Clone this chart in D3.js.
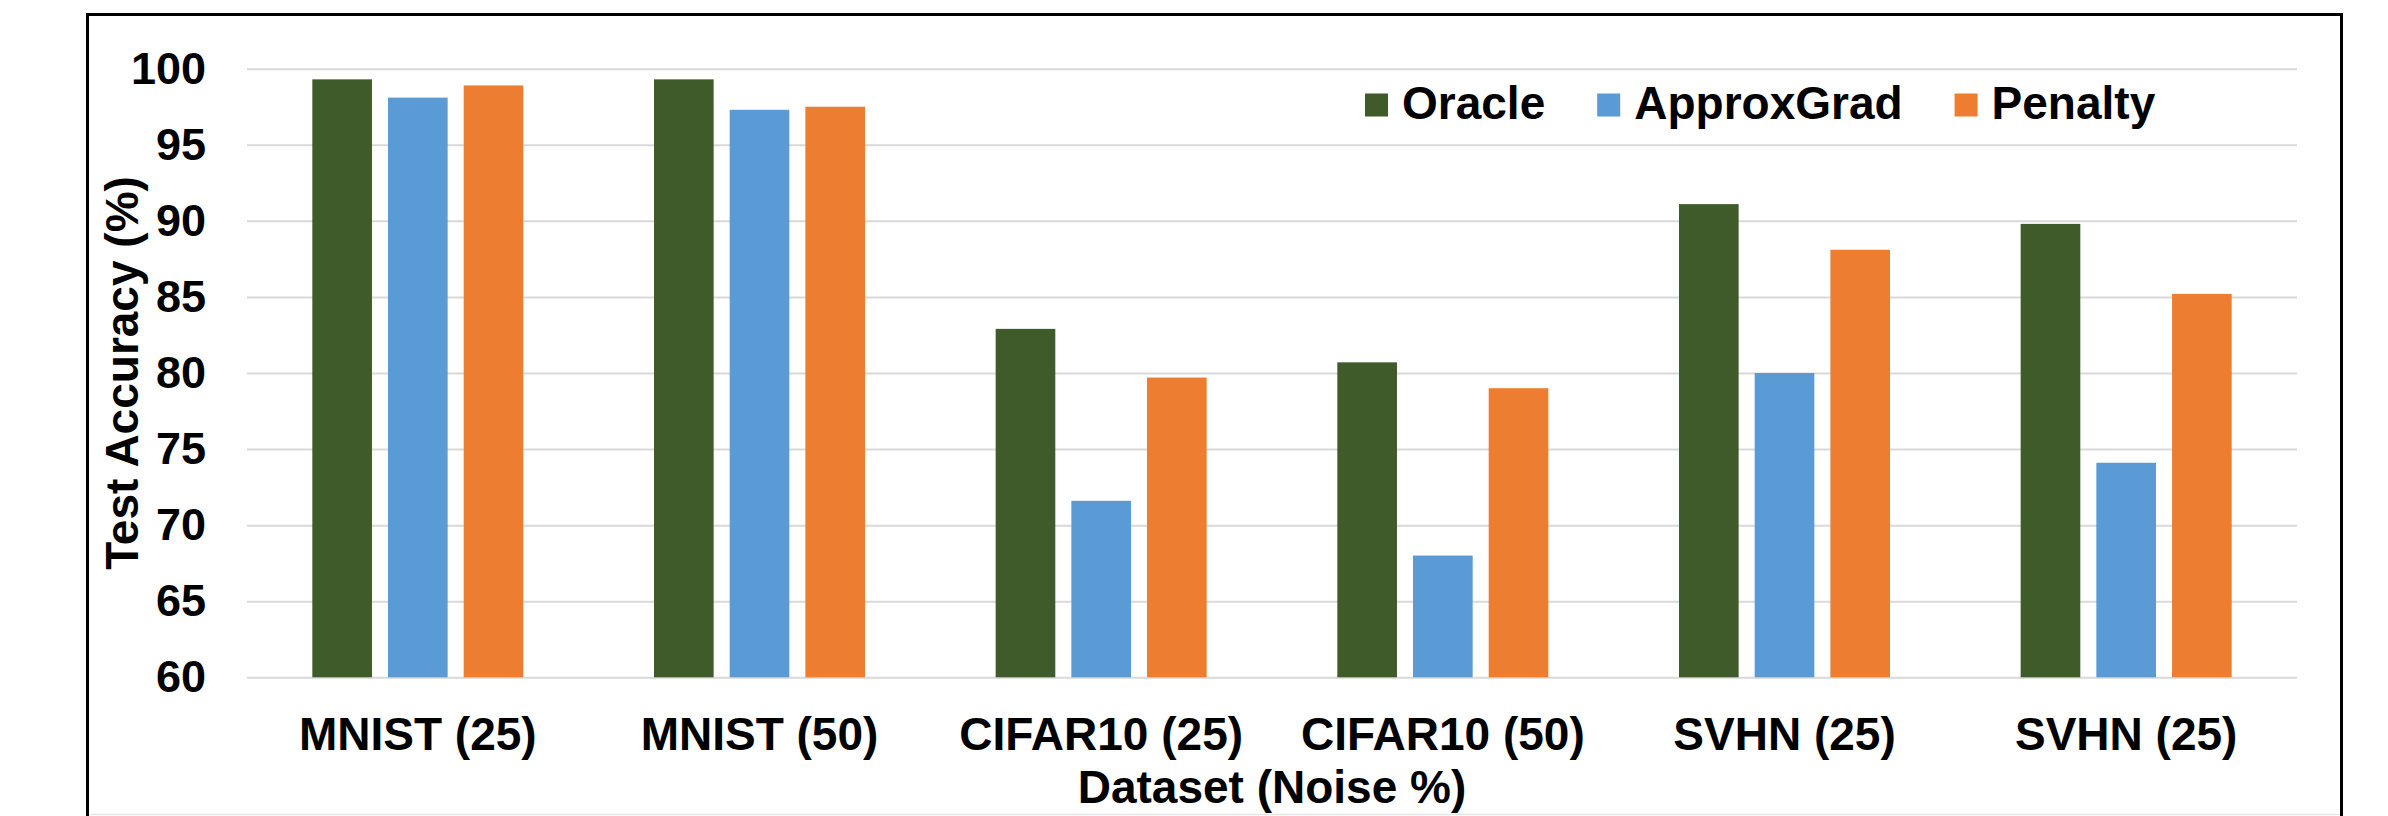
<!DOCTYPE html>
<html>
<head>
<meta charset="utf-8">
<script src="https://cdn.jsdelivr.net/npm/d3@7"></script>
<style>
  html, body { margin: 0; padding: 0; background: #ffffff; }
  svg { display: block; }
  text { font-family: "Liberation Sans", Arial, Helvetica, sans-serif; font-weight: bold; fill: #000; }
</style>
</head>
<body>
<svg id="chart" width="2388" height="816"></svg>
<script>
// ---- data ----
const categories = ["MNIST (25)", "MNIST (50)", "CIFAR10 (25)", "CIFAR10 (50)", "SVHN (25)", "SVHN (25)"];
const seriesNames = ["Oracle", "ApproxGrad", "Penalty"];
const oracle     = [99.3, 99.3, 82.9, 80.7, 91.1, 89.8];
const approxGrad = [98.1, 97.3, 71.6, 68.0, 80.0, 74.1];
const penalty    = [98.9, 97.5, 79.7, 79.0, 88.1, 85.2];
const yTicks = [60, 65, 70, 75, 80, 85, 90, 95, 100];
const colors = ["#3f5b29", "#5b9bd5", "#ed7d31"];
const yTitle = "Test Accuracy (%)";
const xTitle = "Dataset (Noise %)";

const seriesValues = [oracle, approxGrad, penalty];

// ---- layout ----
const W = 2388, H = 816;
const plot = { left: 247, right: 2297, top: 68.7, bottom: 677.3 };
const svg = d3.select("#chart");

// frame
svg.append("rect")
  .attr("x", 87.5).attr("y", 14.5)
  .attr("width", 2341.5 - 87.5).attr("height", 830)
  .attr("fill", "none").attr("stroke", "#000").attr("stroke-width", 3);
svg.append("line")
  .attr("x1", 90).attr("x2", 2340).attr("y1", 814.5).attr("y2", 814.5)
  .attr("stroke", "#e6e6e6").attr("stroke-width", 1.5);

// scales
const y = d3.scaleLinear().domain([60, 100]).range([plot.bottom, plot.top]);
const x0 = d3.scaleBand().domain(d3.range(categories.length)).range([plot.left, plot.right]).padding(0);
const groupW = 211;
const x1 = d3.scaleBand().domain(seriesNames).range([0, groupW]).paddingInner(0.212).paddingOuter(0);

// y axis + gridlines
const yAxis = svg.append("g")
  .attr("transform", `translate(${plot.left},0)`)
  .call(d3.axisLeft(y).tickValues(yTicks).tickSize(-(plot.right - plot.left)).tickPadding(41).tickFormat(d3.format("d")));
yAxis.select(".domain").remove();
yAxis.selectAll(".tick line").attr("stroke", "#d9d9d9").attr("stroke-width", 2);
yAxis.selectAll(".tick text").attr("font-size", 45).attr("font-family", null).attr("fill", "#000");

// bars
const groups = svg.append("g").selectAll("g")
  .data(categories.map((c, i) => i))
  .join("g")
  .attr("transform", i => `translate(${x0(i) + (x0.bandwidth() - groupW) / 2},0)`);
groups.selectAll("rect")
  .data(i => seriesNames.map((s, k) => ({ s, k, v: seriesValues[k][i] })))
  .join("rect")
  .attr("x", d => x1(d.s))
  .attr("width", x1.bandwidth())
  .attr("y", d => y(d.v))
  .attr("height", d => y(60) - y(d.v))
  .attr("fill", d => colors[d.k]);

// x axis labels
const xAxis = svg.append("g")
  .attr("transform", `translate(0,${plot.bottom})`)
  .call(d3.axisBottom(x0).tickSize(0).tickPadding(40).tickFormat(i => categories[i]));
xAxis.select(".domain").remove();
xAxis.selectAll(".tick text").attr("font-size", 46).attr("font-family", null).attr("fill", "#000");

// axis titles
svg.append("text")
  .attr("transform", `translate(138,${(plot.top + plot.bottom) / 2}) rotate(-90)`)
  .attr("text-anchor", "middle")
  .attr("font-size", 46)
  .text(yTitle);
svg.append("text")
  .attr("x", (plot.left + plot.right) / 2).attr("y", 803)
  .attr("text-anchor", "middle")
  .attr("font-size", 46)
  .text(xTitle);

// legend
const legend = svg.append("g");
let lx = 1365;
seriesNames.forEach((name, k) => {
  legend.append("rect")
    .attr("x", lx).attr("y", 93.5).attr("width", 23).attr("height", 23)
    .attr("fill", colors[k]);
  const t = legend.append("text")
    .attr("x", lx + 37).attr("y", 119)
    .attr("font-size", 46)
    .text(name);
  lx = lx + 37 + t.node().getComputedTextLength() + 52;
});
</script>
</body>
</html>
